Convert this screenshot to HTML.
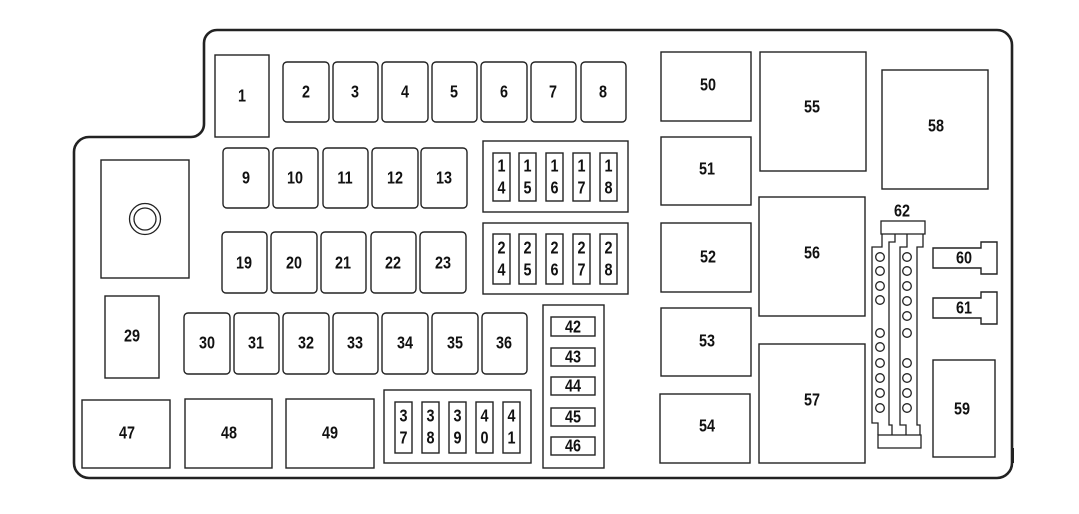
<!DOCTYPE html>
<html><head><meta charset="utf-8"><style>
html,body{margin:0;padding:0;background:#fff}
svg{display:block}
text{font-family:"Liberation Sans",sans-serif;font-weight:bold;font-size:18px;fill:#111;text-anchor:middle;dominant-baseline:central;transform-box:fill-box;transform-origin:center;transform:scaleX(0.8)}
.b{fill:#fff;stroke:#222;stroke-width:1.4}
.c{fill:none;stroke:#222;stroke-width:1.3}
</style></head><body>
<svg width="1079" height="514" viewBox="0 0 1079 514" xmlns="http://www.w3.org/2000/svg">
<path d="M219,30 H997 A15,15 0 0 1 1012,45 V463 A15,15 0 0 1 997,478 H89 A15,15 0 0 1 74,463 V152 A15,15 0 0 1 89,137 H191 A13,13 0 0 0 204,124 V43 A13,13 0 0 1 217,30 Z" fill="#fff" stroke="#222" stroke-width="2.6"/>
<path d="M1013,448 v15" stroke="#222" stroke-width="2"/>
<rect class="b" x="215" y="55" width="54" height="82"/><text x="242" y="96">1</text>
<rect class="b" x="283" y="62" width="46" height="60" rx="4"/><text x="306" y="92">2</text>
<rect class="b" x="333" y="62" width="45" height="60" rx="4"/><text x="355" y="92">3</text>
<rect class="b" x="382" y="62" width="46" height="60" rx="4"/><text x="405" y="92">4</text>
<rect class="b" x="432" y="62" width="45" height="60" rx="4"/><text x="454" y="92">5</text>
<rect class="b" x="481" y="62" width="46" height="60" rx="4"/><text x="504" y="92">6</text>
<rect class="b" x="531" y="62" width="45" height="60" rx="4"/><text x="553" y="92">7</text>
<rect class="b" x="581" y="62" width="45" height="60" rx="4"/><text x="603" y="92">8</text>
<rect class="b" x="223" y="148" width="46" height="60" rx="4"/><text x="246" y="178">9</text>
<rect class="b" x="273" y="148" width="45" height="60" rx="4"/><text x="295" y="178">10</text>
<rect class="b" x="323" y="148" width="45" height="60" rx="4"/><text x="345" y="178">11</text>
<rect class="b" x="372" y="148" width="46" height="60" rx="4"/><text x="395" y="178">12</text>
<rect class="b" x="421" y="148" width="46" height="60" rx="4"/><text x="444" y="178">13</text>
<rect class="b" x="222" y="232" width="45" height="61" rx="4"/><text x="244" y="263">19</text>
<rect class="b" x="271" y="232" width="46" height="61" rx="4"/><text x="294" y="263">20</text>
<rect class="b" x="321" y="232" width="45" height="61" rx="4"/><text x="343" y="263">21</text>
<rect class="b" x="371" y="232" width="45" height="61" rx="4"/><text x="393" y="263">22</text>
<rect class="b" x="420" y="232" width="46" height="61" rx="4"/><text x="443" y="263">23</text>
<rect class="b" x="483" y="141" width="145" height="71"/>
<rect class="b" x="493" y="153" width="17" height="48"/><text x="501.5" y="166">1</text><text x="501.5" y="188">4</text>
<rect class="b" x="519" y="153" width="17" height="48"/><text x="527.5" y="166">1</text><text x="527.5" y="188">5</text>
<rect class="b" x="546" y="153" width="17" height="48"/><text x="554.5" y="166">1</text><text x="554.5" y="188">6</text>
<rect class="b" x="573" y="153" width="17" height="48"/><text x="581.5" y="166">1</text><text x="581.5" y="188">7</text>
<rect class="b" x="600" y="153" width="17" height="48"/><text x="608.5" y="166">1</text><text x="608.5" y="188">8</text>
<rect class="b" x="483" y="223" width="145" height="71"/>
<rect class="b" x="493" y="234" width="17" height="50"/><text x="501.5" y="248">2</text><text x="501.5" y="270">4</text>
<rect class="b" x="519" y="234" width="17" height="50"/><text x="527.5" y="248">2</text><text x="527.5" y="270">5</text>
<rect class="b" x="546" y="234" width="17" height="50"/><text x="554.5" y="248">2</text><text x="554.5" y="270">6</text>
<rect class="b" x="573" y="234" width="17" height="50"/><text x="581.5" y="248">2</text><text x="581.5" y="270">7</text>
<rect class="b" x="600" y="234" width="17" height="50"/><text x="608.5" y="248">2</text><text x="608.5" y="270">8</text>
<rect class="b" x="101" y="160" width="88" height="118"/>
<circle cx="145" cy="219" r="15.5" class="c"/><circle cx="145" cy="219" r="11" class="c"/>
<rect class="b" x="105" y="296" width="54" height="82"/><text x="132" y="336">29</text>
<rect class="b" x="184" y="313" width="46" height="61" rx="4"/><text x="207" y="343">30</text>
<rect class="b" x="234" y="313" width="45" height="61" rx="4"/><text x="256" y="343">31</text>
<rect class="b" x="283" y="313" width="46" height="61" rx="4"/><text x="306" y="343">32</text>
<rect class="b" x="333" y="313" width="45" height="61" rx="4"/><text x="355" y="343">33</text>
<rect class="b" x="382" y="313" width="46" height="61" rx="4"/><text x="405" y="343">34</text>
<rect class="b" x="432" y="313" width="46" height="61" rx="4"/><text x="455" y="343">35</text>
<rect class="b" x="482" y="313" width="45" height="61" rx="4"/><text x="504" y="343">36</text>
<rect class="b" x="82" y="400" width="88" height="68"/><text x="127" y="433">47</text>
<rect class="b" x="185" y="399" width="87" height="69"/><text x="229" y="433">48</text>
<rect class="b" x="286" y="399" width="88" height="69"/><text x="330" y="433">49</text>
<rect class="b" x="384" y="390" width="147" height="73"/>
<rect class="b" x="395" y="402" width="17" height="51"/><text x="403.5" y="416">3</text><text x="403.5" y="438">7</text>
<rect class="b" x="422" y="402" width="17" height="51"/><text x="430.5" y="416">3</text><text x="430.5" y="438">8</text>
<rect class="b" x="449" y="402" width="17" height="51"/><text x="457.5" y="416">3</text><text x="457.5" y="438">9</text>
<rect class="b" x="476" y="402" width="17" height="51"/><text x="484.5" y="416">4</text><text x="484.5" y="438">0</text>
<rect class="b" x="503" y="402" width="17" height="51"/><text x="511.5" y="416">4</text><text x="511.5" y="438">1</text>
<rect class="b" x="543" y="305" width="61" height="163"/>
<rect class="b" x="551" y="317" width="44" height="19"/><text x="573" y="327">42</text>
<rect class="b" x="551" y="348" width="44" height="18"/><text x="573" y="357">43</text>
<rect class="b" x="551" y="377" width="44" height="18"/><text x="573" y="386">44</text>
<rect class="b" x="551" y="408" width="44" height="18"/><text x="573" y="417">45</text>
<rect class="b" x="551" y="437" width="44" height="18"/><text x="573" y="446">46</text>
<rect class="b" x="661" y="52" width="90" height="69"/><text x="708" y="85">50</text>
<rect class="b" x="661" y="137" width="90" height="68"/><text x="707" y="169">51</text>
<rect class="b" x="661" y="223" width="90" height="69"/><text x="708" y="257">52</text>
<rect class="b" x="661" y="308" width="90" height="68"/><text x="707" y="341">53</text>
<rect class="b" x="660" y="394" width="90" height="69"/><text x="707" y="426">54</text>
<rect class="b" x="760" y="52" width="106" height="119"/><text x="812" y="107">55</text>
<rect class="b" x="759" y="197" width="106" height="119"/><text x="812" y="253">56</text>
<rect class="b" x="759" y="344" width="106" height="119"/><text x="812" y="400">57</text>
<rect class="b" x="882" y="70" width="106" height="119"/><text x="936" y="126">58</text>
<rect class="b" x="933" y="360" width="62" height="97"/><text x="962" y="409">59</text>
<path class="b" d="M933,248 H981 V242 H997 V274 H981 V268 H933 Z"/><text x="964" y="258">60</text>
<path class="b" d="M933,298 H981 V292 H997 V324 H981 V318 H933 Z"/><text x="964" y="308">61</text>
<text x="902" y="211">62</text>
<g class="c">
<rect x="881" y="221" width="44" height="13" fill="#fff"/>
<rect x="878" y="435" width="43" height="13" fill="#fff"/>
<path d="M882,234 V247 H872 V423 H878 V435"/>
<path d="M895,234 V242 H889 V425 H892 V435"/>
<path d="M907,234 V247 H900 V425 H906 V435"/>
<path d="M923,234 V247 H917 V425 H920 V435"/>
</g>
<g class="c">
<circle cx="880" cy="257" r="4.3"/><circle cx="880" cy="271" r="4.3"/><circle cx="880" cy="286" r="4.3"/><circle cx="880" cy="300" r="4.3"/>
<circle cx="880" cy="333" r="4.3"/><circle cx="880" cy="347" r="4.3"/><circle cx="880" cy="363" r="4.3"/><circle cx="880" cy="378" r="4.3"/><circle cx="880" cy="393" r="4.3"/><circle cx="880" cy="408" r="4.3"/>
<circle cx="907" cy="257" r="4.3"/><circle cx="907" cy="271" r="4.3"/><circle cx="907" cy="286" r="4.3"/><circle cx="907" cy="301" r="4.3"/><circle cx="907" cy="316" r="4.3"/><circle cx="907" cy="333" r="4.3"/>
<circle cx="907" cy="363" r="4.3"/><circle cx="907" cy="378" r="4.3"/><circle cx="907" cy="393" r="4.3"/><circle cx="907" cy="408" r="4.3"/>
</g>
</svg>
</body></html>
